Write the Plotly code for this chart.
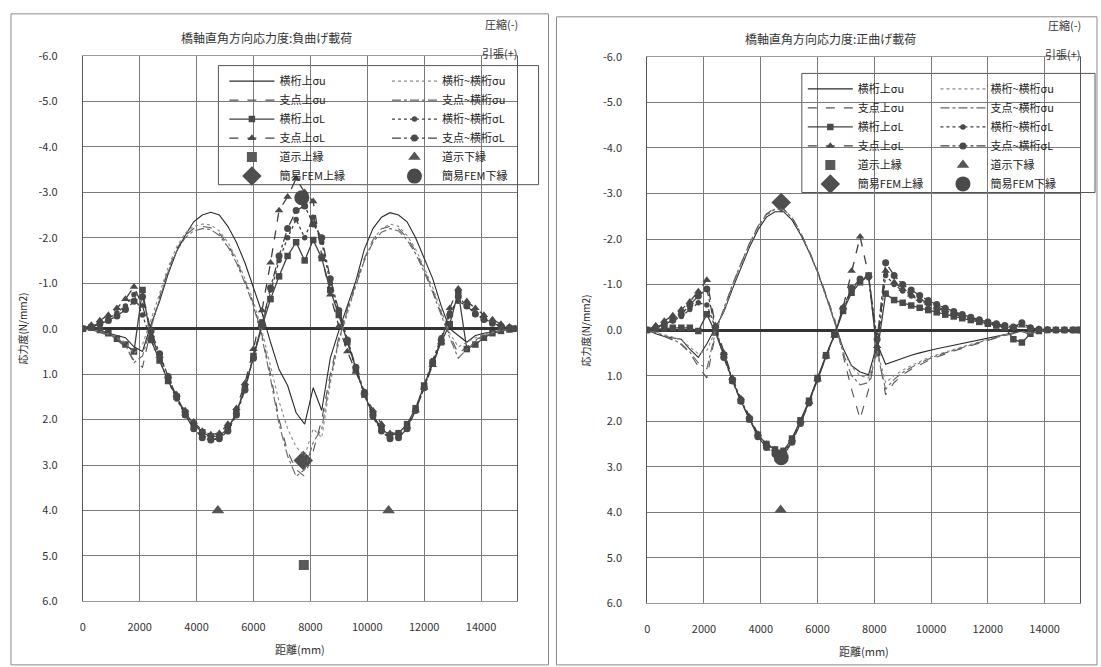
import plotly.graph_objects as go

W, H = 1101, 667

# ---------------- data ----------------
dist_mm = [0, 300, 600, 900, 1200, 1500, 1800, 2100, 2400, 2700, 3000, 3300, 3600,
           3900, 4200, 4500, 4800, 5100, 5400, 5700, 6000, 6300, 6600, 6900, 7200, 7500,
           7800, 8100, 8400, 8700, 9000, 9300, 9600, 9900, 10200, 10500, 10800, 11100, 11400,
           11700, 12000, 12300, 12600, 12900, 13200, 13500, 13800, 14100, 14400, 14700, 15000, 15200]

series_names_left_col = ["横桁上σu", "支点上σu", "横桁上σL", "支点上σL", "道示上縁", "簡易FEM上縁"]
series_names_right_col = ["横桁~横桁σu", "支点~横桁σu", "横桁~横桁σL", "支点~横桁σL", "道示下縁", "簡易FEM下縁"]

# 負曲げ載荷 (left chart)
neg_yoko_u = [0, 0.02, 0.05, 0.1, 0.15, 0.2, 0.4, 0.5, -0.1, -0.6, -1.2, -1.7, -2.05,
              -2.35, -2.5, -2.56, -2.5, -2.25, -1.9, -1.45, -0.9, -0.35, 0.3, 0.9, 1.25, 1.85,
              2.1, 1.3, 1.8, 0.65, 0.05, -0.5, -1.05, -1.75, -2.2, -2.45, -2.55, -2.5, -2.35,
              -2.0, -1.55, -1.1, -0.5, 0.0, 0.15, 0.3, 0.15, 0.1, 0.07, 0.04, 0.02, 0]
neg_shiten_u = [0, 0.03, 0.08, 0.15, 0.25, 0.4, 0.7, 0.85, 0.0, -0.7, -1.3, -1.75, -2.05,
                -2.2, -2.25, -2.22, -2.1, -1.85, -1.5, -1.05, -0.55, 0.15, 1.0, 2.0, 2.7, 3.1,
                3.25, 2.7, 2.0, 1.0, 0.2, -0.45, -1.0, -1.55, -1.95, -2.2, -2.25, -2.2, -2.0,
                -1.7, -1.3, -0.85, -0.35, 0.15, 0.55, 0.4, 0.25, 0.15, 0.1, 0.05, 0.02, 0]
neg_kan_u = [0, 0.02, 0.06, 0.12, 0.2, 0.3, 0.55, 0.35, -0.2, -0.8, -1.35, -1.8, -2.1,
             -2.25, -2.3, -2.28, -2.15, -1.9, -1.55, -1.1, -0.6, 0.05, 0.8, 1.6, 2.2, 2.6,
             2.8, 2.2, 2.4, 1.2, 0.3, -0.35, -0.95, -1.5, -1.95, -2.2, -2.3, -2.25, -2.05,
             -1.75, -1.35, -0.9, -0.4, 0.1, 0.4, 0.3, 0.2, 0.12, 0.08, 0.04, 0.02, 0]
neg_shikan_u = [0, 0.03, 0.07, 0.13, 0.22, 0.35, 0.75, 0.6, -0.05, -0.65, -1.25, -1.7, -2.0,
                -2.15, -2.2, -2.18, -2.05, -1.8, -1.45, -1.0, -0.5, 0.2, 1.1, 2.1, 2.8, 3.25,
                3.1, 2.5, 2.2, 1.1, 0.25, -0.4, -0.95, -1.5, -1.9, -2.12, -2.2, -2.15, -1.95,
                -1.65, -1.25, -0.8, -0.3, 0.2, 0.65, 0.45, 0.28, 0.16, 0.1, 0.05, 0.02, 0]
neg_yoko_L = [0, -0.02, 0.03, 0.1, 0.22, 0.35, 0.5, -0.85, 0.25, 0.7, 1.15, 1.5, 1.85,
              2.1, 2.28, 2.38, 2.36, 2.2, 1.85, 1.3, 0.6, -0.05, -0.65, -1.15, -1.6, -1.9,
              -1.5, -1.95, -1.55, -0.85, -0.3, 0.3, 0.9, 1.45, 1.9, 2.2, 2.35, 2.3, 2.1,
              1.75, 1.25, 0.75, 0.3, -0.1, -0.8, 0.45, 0.35, 0.2, 0.1, 0.05, 0.02, 0]
neg_shiten_L = [0, -0.08, -0.18, -0.3, -0.45, -0.65, -0.92, -0.5, 0.15, 0.6, 1.05, 1.45, 1.8,
                2.05, 2.25, 2.33, 2.3, 2.1, 1.75, 1.2, 0.45, -0.4, -1.45, -2.6, -2.9, -3.3,
                -3.0, -2.8, -1.6, -0.75, -0.05, 0.5, 0.95, 1.4, 1.8, 2.1, 2.3, 2.3, 2.15,
                1.8, 1.3, 0.8, 0.3, -0.45, -0.88, -0.6, -0.45, -0.3, -0.2, -0.1, -0.04, 0]
neg_kan_L = [0, -0.05, -0.12, -0.22, -0.35, -0.5, -0.75, -0.3, 0.25, 0.7, 1.15, 1.55, 1.9,
             2.15, 2.35, 2.43, 2.4, 2.22, 1.85, 1.3, 0.6, -0.15, -0.85, -1.5, -2.0, -2.4,
             -2.0, -2.45, -1.9, -1.0, -0.35, 0.3, 0.9, 1.45, 1.95, 2.25, 2.42, 2.38, 2.15,
             1.75, 1.25, 0.7, 0.2, -0.35, -0.6, -0.5, -0.35, -0.22, -0.13, -0.06, -0.02, 0]
neg_shikan_L = [0, -0.04, -0.1, -0.18, -0.28, -0.42, -0.6, -0.7, 0.05, 0.55, 1.05, 1.5, 1.9,
                2.2, 2.4, 2.45, 2.42, 2.25, 1.9, 1.35, 0.65, -0.1, -0.9, -1.6, -2.2, -2.6,
                -2.7, -2.3, -2.0, -1.1, -0.4, 0.25, 0.85, 1.4, 1.9, 2.25, 2.42, 2.4, 2.2,
                1.8, 1.3, 0.75, 0.25, -0.3, -0.7, -0.5, -0.32, -0.2, -0.12, -0.06, -0.02, 0]
neg_dojo_top_x, neg_dojo_top_y = [7770], [5.2]
neg_dojo_bot_x, neg_dojo_bot_y = [4750, 10750], [4.0, 4.0]
neg_fem_top_x, neg_fem_top_y = [7750], [2.9]
neg_fem_bot_x, neg_fem_bot_y = [7700], [-2.88]

# 正曲げ載荷 (right chart)
pos_yoko_u = [0, 0.08, 0.14, 0.17, 0.2, 0.42, 0.6, 0.3, -0.05, -0.4, -0.9, -1.38, -1.82,
              -2.2, -2.48, -2.6, -2.6, -2.42, -2.1, -1.72, -1.28, -0.75, -0.2, 0.4, 0.78, 0.92,
              0.98, 0.3, 0.75, 0.68, 0.61, 0.55, 0.5, 0.45, 0.41, 0.37, 0.33, 0.3, 0.26,
              0.21, 0.17, 0.13, 0.09, 0.05, 0.02, 0.01, 0.0, 0.0, 0.0, 0.0, 0.0, 0.0]
pos_shiten_u = [0, 0.06, 0.14, 0.22, 0.32, 0.5, 0.8, 1.05, 0.1, -0.45, -0.98, -1.45, -1.9,
                -2.28, -2.55, -2.68, -2.66, -2.48, -2.15, -1.75, -1.3, -0.78, -0.25, 0.55, 1.3, 1.95,
                1.3, 0.4, 1.42, 1.15, 0.98, 0.86, 0.76, 0.67, 0.59, 0.52, 0.46, 0.4, 0.34,
                0.28, 0.22, 0.17, 0.12, 0.07, 0.03, 0.1, 0.03, 0.01, 0.0, 0.0, 0.0, 0.0]
pos_kan_u = [0, 0.05, 0.1, 0.15, 0.22, 0.38, 0.52, 0.45, 0.0, -0.42, -0.95, -1.42, -1.86,
             -2.25, -2.52, -2.65, -2.64, -2.46, -2.12, -1.72, -1.26, -0.72, -0.18, 0.45, 0.8, 1.0,
             1.05, 0.45, 1.15, 1.0, 0.88, 0.78, 0.69, 0.61, 0.54, 0.48, 0.42, 0.37, 0.31,
             0.26, 0.2, 0.15, 0.1, 0.06, 0.03, 0.06, 0.02, 0.01, 0.0, 0.0, 0.0, 0.0]
pos_shikan_u = [0, 0.06, 0.12, 0.2, 0.3, 0.48, 0.72, 0.85, 0.05, -0.48, -1.0, -1.46, -1.9,
                -2.27, -2.54, -2.66, -2.65, -2.47, -2.14, -1.74, -1.28, -0.75, -0.22, 0.5, 1.0, 1.2,
                1.15, 0.5, 1.3, 1.08, 0.93, 0.82, 0.72, 0.64, 0.56, 0.5, 0.44, 0.38, 0.32,
                0.27, 0.21, 0.16, 0.11, 0.07, 0.03, 0.08, 0.02, 0.01, 0.0, 0.0, 0.0, 0.0]
pos_yoko_L = [0, -0.02, -0.04, -0.05, -0.05, -0.05, 0.02, -0.35, 0.05, 0.55, 1.1, 1.55, 1.95,
              2.3, 2.5, 2.62, 2.65, 2.38, 1.98, 1.55, 1.05, 0.55, 0.1, -0.42, -0.82, -1.05,
              -1.2, 0.5, -0.8, -0.66, -0.6, -0.54, -0.49, -0.44, -0.39, -0.34, -0.3, -0.26, -0.22,
              -0.18, -0.14, -0.1, -0.06, 0.2, 0.27, 0.08, 0.02, 0.0, 0.0, 0.0, 0.0, 0.0]
pos_shiten_L = [0, -0.1, -0.2, -0.32, -0.45, -0.62, -0.85, -1.1, -0.1, 0.5, 1.05, 1.5, 1.9,
                2.28, 2.5, 2.62, 2.66, 2.4, 2.0, 1.58, 1.08, 0.58, 0.12, -0.5, -1.3, -2.05,
                -1.2, 0.35, -1.3, -1.05, -0.9, -0.78, -0.68, -0.59, -0.51, -0.44, -0.38, -0.32, -0.27,
                -0.22, -0.17, -0.13, -0.09, -0.06, -0.1, -0.04, -0.02, -0.01, 0.0, 0.0, 0.0, 0.0]
pos_kan_L = [0, -0.06, -0.13, -0.2, -0.3, -0.45, -0.6, -0.55, -0.05, 0.55, 1.08, 1.52, 1.93,
             2.3, 2.52, 2.66, 2.7, 2.42, 2.02, 1.58, 1.06, 0.56, 0.1, -0.45, -0.88, -1.1,
             -1.15, 0.4, -1.2, -1.0, -0.86, -0.75, -0.65, -0.56, -0.48, -0.41, -0.35, -0.29, -0.24,
             -0.2, -0.16, -0.12, -0.08, -0.05, -0.16, -0.05, -0.02, -0.01, 0.0, 0.0, 0.0, 0.0]
pos_shikan_L = [0, -0.05, -0.12, -0.22, -0.35, -0.55, -0.75, -0.9, -0.05, 0.6, 1.12, 1.56, 1.96,
                2.34, 2.58, 2.72, 2.76, 2.46, 2.05, 1.6, 1.08, 0.57, 0.08, -0.48, -0.92, -1.12,
                -1.18, 0.2, -1.48, -1.2, -1.0, -0.88, -0.76, -0.65, -0.56, -0.48, -0.41, -0.34, -0.28,
                -0.23, -0.18, -0.14, -0.1, -0.07, -0.16, -0.05, -0.02, -0.01, 0.0, 0.0, 0.0, 0.0]
pos_dojo_top_x, pos_dojo_top_y = [], []
pos_dojo_bot_x, pos_dojo_bot_y = [4700], [3.95]
pos_fem_top_x, pos_fem_top_y = [4720], [-2.8]
pos_fem_bot_x, pos_fem_bot_y = [4720], [2.8]

x_tick_vals = [0, 2000, 4000, 6000, 8000, 10000, 12000, 14000]
x_tick_text = ["0", "2000", "4000", "6000", "8000", "10000", "12000", "14000"]
y_tick_vals = [-6, -5, -4, -3, -2, -1, 0, 1, 2, 3, 4, 5, 6]
y_tick_text = ["-6.0", "-5.0", "-4.0", "-3.0", "-2.0", "-1.0", "0.0",
               "1.0", "2.0", "3.0", "4.0", "5.0", "6.0"]

titles = ["橋軸直角方向応力度:負曲げ載荷", "橋軸直角方向応力度:正曲げ載荷"]

# ---------------- styling ----------------
FONT = "Noto Sans CJK JP"
INK = "#333333"
MK = "#4a4a4a"

fig = go.Figure()


def px(x):
    return x / W


def py(y):
    return 1 - y / H


def add_panel(xa, ya, lg_a, lg_b, u_sets, L_sets, dojo_top, dojo_bot, fem_top, fem_bot):
    u_dash = ["solid", "dash", "dot", "dashdot"]
    u_col = ["#2a2a2a", "#555555", "#8a8a8a", "#666666"]
    L_dash = ["solid", "dash", "dot", "dashdot"]
    L_sym = ["square", "triangle-up", "circle", "circle"]
    L_size = [6.5, 7.5, 5.5, 7]
    names_u = [series_names_left_col[0], series_names_left_col[1],
               series_names_right_col[0], series_names_right_col[1]]
    names_L = [series_names_left_col[2], series_names_left_col[3],
               series_names_right_col[2], series_names_right_col[3]]
    legs = [lg_a, lg_a, lg_b, lg_b]
    order_A = [("u", 0), ("u", 1), ("L", 0), ("L", 1)]
    order_B = [("u", 2), ("u", 3), ("L", 2), ("L", 3)]

    def add_line(kind, k):
        if kind == "u":
            fig.add_trace(go.Scatter(
                x=dist_mm, y=u_sets[k], mode="lines", name=names_u[k],
                line=dict(color=u_col[k], width=1.1, dash=u_dash[k]),
                xaxis=xa, yaxis=ya, legend=legs[k]))
        else:
            fig.add_trace(go.Scatter(
                x=dist_mm, y=L_sets[k], mode="lines+markers", name=names_L[k],
                line=dict(color="#404040", width=1.3, dash=L_dash[k]),
                marker=dict(symbol=L_sym[k], size=L_size[k], color=MK,
                            line=dict(width=0)),
                xaxis=xa, yaxis=ya, legend=legs[k]))

    for kind, k in order_A:
        add_line(kind, k)
    fig.add_trace(go.Scatter(
        x=dojo_top[0] if dojo_top[0] else [None], y=dojo_top[1] if dojo_top[1] else [None],
        mode="markers", name=series_names_left_col[4],
        marker=dict(symbol="square", size=10, color="#5a5a5a"),
        xaxis=xa, yaxis=ya, legend=lg_a))
    fig.add_trace(go.Scatter(
        x=fem_top[0], y=fem_top[1], mode="markers", name=series_names_left_col[5],
        marker=dict(symbol="diamond", size=15, color="#4f4f4f"),
        xaxis=xa, yaxis=ya, legend=lg_a))
    for kind, k in order_B:
        add_line(kind, k)
    fig.add_trace(go.Scatter(
        x=dojo_bot[0], y=dojo_bot[1], mode="markers", name=series_names_right_col[4],
        marker=dict(symbol="triangle-up", size=11, color="#555555"),
        xaxis=xa, yaxis=ya, legend=lg_b))
    fig.add_trace(go.Scatter(
        x=fem_bot[0], y=fem_bot[1], mode="markers", name=series_names_right_col[5],
        marker=dict(symbol="circle", size=15, color="#4a4a4a"),
        xaxis=xa, yaxis=ya, legend=lg_b))


add_panel("x", "y", "legend", "legend2",
          [neg_yoko_u, neg_shiten_u, neg_kan_u, neg_shikan_u],
          [neg_yoko_L, neg_shiten_L, neg_kan_L, neg_shikan_L],
          (neg_dojo_top_x, neg_dojo_top_y), (neg_dojo_bot_x, neg_dojo_bot_y),
          (neg_fem_top_x, neg_fem_top_y), (neg_fem_bot_x, neg_fem_bot_y))
add_panel("x2", "y2", "legend3", "legend4",
          [pos_yoko_u, pos_shiten_u, pos_kan_u, pos_shikan_u],
          [pos_yoko_L, pos_shiten_L, pos_kan_L, pos_shikan_L],
          (pos_dojo_top_x, pos_dojo_top_y), (pos_dojo_bot_x, pos_dojo_bot_y),
          (pos_fem_top_x, pos_fem_top_y), (pos_fem_bot_x, pos_fem_bot_y))

# panel geometry (pixels)
L_PLOT = dict(x0=80, x1=515, y0=48, y1=607)
R_PLOT = dict(x0=646, x1=1080, y0=49, y1=609)


def xaxis_cfg(p):
    return dict(domain=[px(p["x0"]), px(p["x1"])], range=[0, 15250],
                tickvals=x_tick_vals, ticktext=x_tick_text,
                showgrid=True, gridcolor="#7a7a7a", gridwidth=1,
                zeroline=False, showline=True, linecolor="#9a9a9a", linewidth=1,
                mirror=True, ticks="", ticklabelstandoff=15,
                tickfont=dict(family=FONT, size=11, color=INK))


def yaxis_cfg(p, anchor):
    return dict(domain=[py(p["y1"]), py(p["y0"])], range=[6, -6], anchor=anchor,
                tickvals=y_tick_vals, ticktext=y_tick_text,
                showgrid=True, gridcolor="#7a7a7a", gridwidth=1,
                zeroline=True, zerolinecolor="#333333", zerolinewidth=2.5,
                showline=True, linecolor="#555555", linewidth=1, mirror=True,
                ticks="", ticklabelstandoff=22,
                tickfont=dict(family=FONT, size=11, color=INK))


leg_common = dict(bgcolor="rgba(0,0,0,0)", borderwidth=0, yanchor="top", xanchor="left",
                  font=dict(family=FONT, size=11, color="#222222"),
                  tracegroupgap=0, itemwidth=45, orientation="v")

LEG_L = dict(x0=216, x1=537, y0=58, y1=180)
LEG_R = dict(x0=801, x1=1095, y0=66, y1=188)

fig.update_layout(
    width=W, height=H, margin=dict(l=0, r=0, t=0, b=0),
    paper_bgcolor="white", plot_bgcolor="white",
    font=dict(family=FONT, color=INK),
    xaxis=xaxis_cfg(L_PLOT), yaxis=yaxis_cfg(L_PLOT, "x"),
    xaxis2=dict(xaxis_cfg(R_PLOT), anchor="y2"), yaxis2=yaxis_cfg(R_PLOT, "x2"),
    legend=dict(leg_common, x=px(222), y=py(LEG_L["y0"] + 1)),
    legend2=dict(leg_common, x=px(385), y=py(LEG_L["y0"] + 1)),
    legend3=dict(leg_common, x=px(802), y=py(LEG_R["y0"] + 1)),
    legend4=dict(leg_common, x=px(935), y=py(LEG_R["y0"] + 1)),
    showlegend=True,
)

shapes = []
shapes.append(dict(type="rect", xref="paper", yref="paper",
                   x0=px(8), x1=px(547), y0=py(672), y1=py(5),
                   line=dict(color="#8a8a8a", width=1)))
shapes.append(dict(type="rect", xref="paper", yref="paper",
                   x0=px(555), x1=px(1097), y0=py(672), y1=py(8),
                   line=dict(color="#8a8a8a", width=1)))
for lg in (LEG_L, LEG_R):
    shapes.append(dict(type="rect", xref="paper", yref="paper", layer="between",
                       x0=px(lg["x0"]), x1=px(lg["x1"]), y0=py(lg["y1"]), y1=py(lg["y0"]),
                       fillcolor="white", line=dict(color="#555555", width=1)))
fig.update_layout(shapes=shapes)

ann = []
for title, p, ytx in ((titles[0], L_PLOT, 20), (titles[1], R_PLOT, 584)):
    cx = (p["x0"] + p["x1"]) / 2 - 33
    ann.append(dict(text=title, x=px(cx), y=py(p["y0"] - 19), xref="paper", yref="paper",
                    showarrow=False, xanchor="center", yanchor="middle",
                    font=dict(family=FONT, size=12, color="#333333")))
    ann.append(dict(text="圧縮(-)", x=px(p["x1"] + 3), y=py(p["y0"] - 33), xref="paper",
                    yref="paper", showarrow=False, xanchor="right", yanchor="middle",
                    font=dict(family=FONT, size=11, color="#333333")))
    ann.append(dict(text="引張(+)", x=px(p["x1"] + 3), y=py(p["y0"] - 3), xref="paper",
                    yref="paper", showarrow=False, xanchor="right", yanchor="middle",
                    font=dict(family=FONT, size=11, color="#333333")))
    ann.append(dict(text="距離(mm)", x=px((p["x0"] + p["x1"]) / 2), y=py(p["y1"] + 49),
                    xref="paper", yref="paper", showarrow=False, xanchor="center",
                    yanchor="middle", font=dict(family=FONT, size=11, color="#333333")))
    ann.append(dict(text="応力度(N/mm2)", x=px(ytx), y=py((p["y0"] + p["y1"]) / 2),
                    xref="paper", yref="paper", showarrow=False, textangle=-90,
                    xanchor="center", yanchor="middle",
                    font=dict(family=FONT, size=10, color="#222222")))
fig.update_layout(annotations=ann)

fig.write_html("out.html", config={"displayModeBar": False},
               post_script="document.body.style.margin='0';")
